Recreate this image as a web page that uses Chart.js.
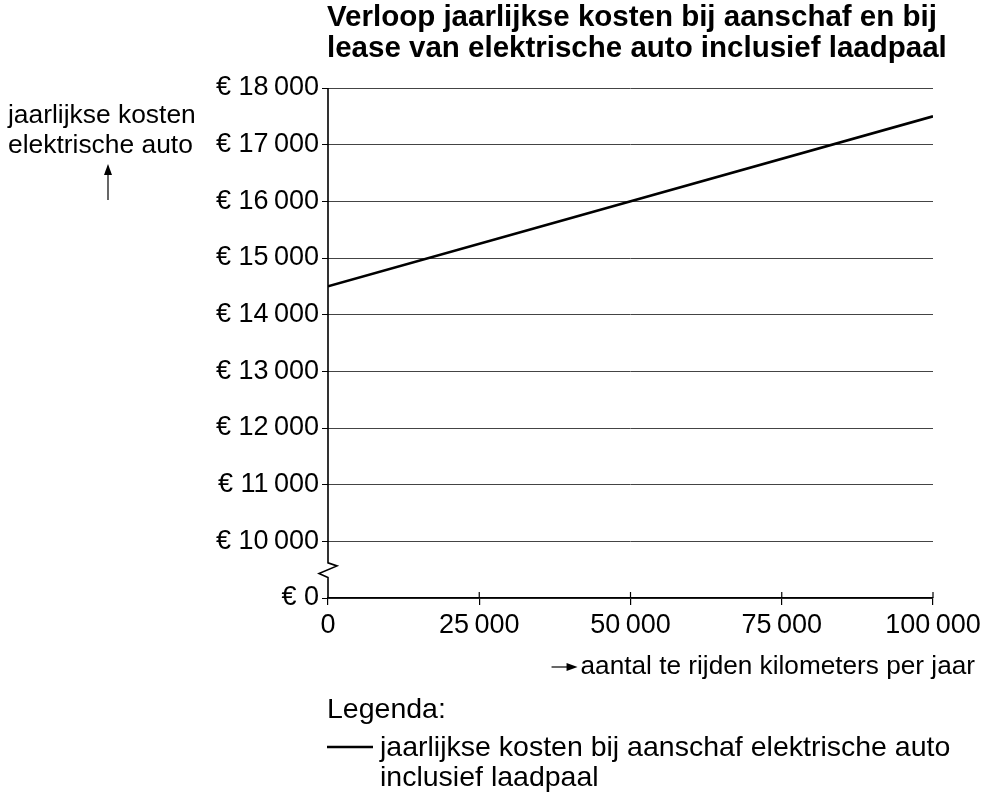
<!DOCTYPE html>
<html>
<head>
<meta charset="utf-8">
<script src="https://cdn.jsdelivr.net/npm/chart.js@4"></script>
<style>
  html, body { margin: 0; padding: 0; background: #fff; }
  canvas { display: block; }
</style>
</head>
<body>
<canvas id="myChart" width="986" height="796"></canvas>
<script>
// data
const kilometers = [0, 100000];
const kostenAanschaf = [14500, 17500];

// the bottom tick (9000) stands for € 0, the axis is broken above it
const yTickValues = [9000, 10000, 11000, 12000, 13000, 14000, 15000, 16000, 17000, 18000];
const yTickLabels = ['€ 0', '€ 10\u2009000', '€ 11\u2009000', '€ 12\u2009000', '€ 13\u2009000',
  '€ 14\u2009000', '€ 15\u2009000', '€ 16\u2009000', '€ 17\u2009000', '€ 18\u2009000'];
const xTickValues = [0, 25000, 50000, 75000, 100000];
const xTickLabels = ['0', '25\u2009000', '50\u2009000', '75\u2009000', '100\u2009000'];

const titleLines = ['Verloop jaarlijkse kosten bij aanschaf en bij',
  'lease van elektrische auto inclusief laadpaal'];
const yTitleLines = ['jaarlijkse kosten', 'elektrische auto'];
const xTitle = 'aantal te rijden kilometers per jaar';
const legendTitle = 'Legenda:';
const legendLines = ['jaarlijkse kosten bij aanschaf elektrische auto', 'inclusief laadpaal'];

const FONT = '"Liberation Sans", Arial, sans-serif';
Chart.defaults.font.family = FONT;
Chart.defaults.font.size = 27;
Chart.defaults.color = '#000';

function arrowHead(ctx, x, y, dir) {
    // dir: 'up' or 'right'
    ctx.beginPath();
    if (dir === 'up') {
        ctx.moveTo(x, y);
        ctx.lineTo(x - 4, y + 11);
        ctx.lineTo(x + 4, y + 11);
    } else {
        ctx.moveTo(x, y);
        ctx.lineTo(x - 11, y - 4);
        ctx.lineTo(x - 11, y + 4);
    }
    ctx.closePath();
    ctx.fill();
}

const decorations = {
    id: 'decorations',
    afterDraw(chart) {
        const ctx = chart.ctx;
        const area = chart.chartArea;
        const xs = chart.scales.x;
        const ys = chart.scales.y;
        ctx.save();
        ctx.strokeStyle = '#000';
        ctx.fillStyle = '#000';

        // y axis with break
        const bTop = ys.getPixelForValue(9620);
        const bBot = ys.getPixelForValue(9360);
        const ax = area.left;
        ctx.lineWidth = 1.6;
        ctx.beginPath();
        ctx.moveTo(ax, area.top);
        ctx.lineTo(ax, bTop);
        ctx.lineTo(ax + 9, bTop + 3);
        ctx.lineTo(ax - 9, bBot - 4);
        ctx.lineTo(ax, bBot);
        ctx.lineTo(ax, area.bottom);
        ctx.stroke();

        // x ticks also reach a bit into the plot
        ctx.lineWidth = 1.2;
        xs.ticks.forEach((t, i) => {
            if (i === 0) return;
            const px = xs.getPixelForTick(i);
            ctx.beginPath();
            ctx.moveTo(px, area.bottom);
            ctx.lineTo(px, area.bottom - 6);
            ctx.stroke();
        });

        // title
        ctx.font = 'bold 29.5px ' + FONT;
        ctx.textBaseline = 'middle';
        ctx.textAlign = 'left';
        ctx.fillText(titleLines[0], area.left - 1, 18);
        ctx.fillText(titleLines[1], area.left - 1, 49);

        // y title
        ctx.font = '26.4px ' + FONT;
        ctx.fillText(yTitleLines[0], 8, 116);
        ctx.fillText(yTitleLines[1], 8, 146);
        ctx.lineWidth = 1.2;
        ctx.beginPath();
        ctx.moveTo(108, 200);
        ctx.lineTo(108, 172);
        ctx.stroke();
        arrowHead(ctx, 108, 164, 'up');

        // x title
        ctx.font = '26.2px ' + FONT;
        ctx.textAlign = 'right';
        ctx.fillText(xTitle, 975, 667);
        const tw = ctx.measureText(xTitle).width;
        const arrowEnd = 975 - tw - 3;
        ctx.beginPath();
        ctx.moveTo(arrowEnd - 26, 667);
        ctx.lineTo(arrowEnd - 8, 667);
        ctx.stroke();
        arrowHead(ctx, arrowEnd, 667, 'right');

        // legend
        ctx.font = '28.5px ' + FONT;
        ctx.textAlign = 'left';
        ctx.fillText(legendTitle, area.left - 1, 710);
        ctx.lineWidth = 2.5;
        ctx.beginPath();
        ctx.moveTo(area.left - 1, 747);
        ctx.lineTo(area.left + 45, 747);
        ctx.stroke();
        ctx.fillText(legendLines[0], area.left + 52, 748);
        ctx.fillText(legendLines[1], area.left + 52, 778);
        ctx.restore();
    }
};

const ctx = document.getElementById('myChart').getContext('2d');
const myChart = new Chart(ctx, {
    type: 'line',
    data: {
        datasets: [{
            label: legendLines.join(' '),
            data: kilometers.map((k, i) => ({ x: k, y: kostenAanschaf[i] })),
            borderColor: '#000',
            borderWidth: 2.6,
            pointRadius: 0,
            fill: false,
            tension: 0
        }]
    },
    options: {
        responsive: false,
        animation: false,
        devicePixelRatio: 1,
        layout: { padding: { top: 88, right: 53, left: 0, bottom: 0 } },
        plugins: {
            legend: { display: false },
            title: { display: false },
            tooltip: { enabled: false }
        },
        scales: {
            x: {
                type: 'linear',
                min: 0,
                max: 100000,
                afterFit: s => { s.height = 198; },
                afterBuildTicks: s => { s.ticks = xTickValues.map(v => ({ value: v })); },
                ticks: {
                    padding: 4,
                    maxRotation: 0,
                    callback: (v) => xTickLabels[xTickValues.indexOf(v)]
                },
                grid: {
                    drawOnChartArea: false,
                    color: '#000',
                    tickColor: '#000',
                    tickLength: 7,
                    lineWidth: 1.2
                },
                border: { color: '#000', width: 1.6 }
            },
            y: {
                min: 9000,
                max: 18000,
                afterFit: s => { s.width = 328; },
                afterBuildTicks: s => { s.ticks = yTickValues.map(v => ({ value: v })); },
                ticks: {
                    padding: 3,
                    callback: (v) => yTickLabels[yTickValues.indexOf(v)]
                },
                grid: {
                    color: '#444',
                    tickColor: '#000',
                    tickLength: 6,
                    lineWidth: 1
                },
                border: { display: false }
            }
        }
    },
    plugins: [decorations]
});
</script>
</body>
</html>
